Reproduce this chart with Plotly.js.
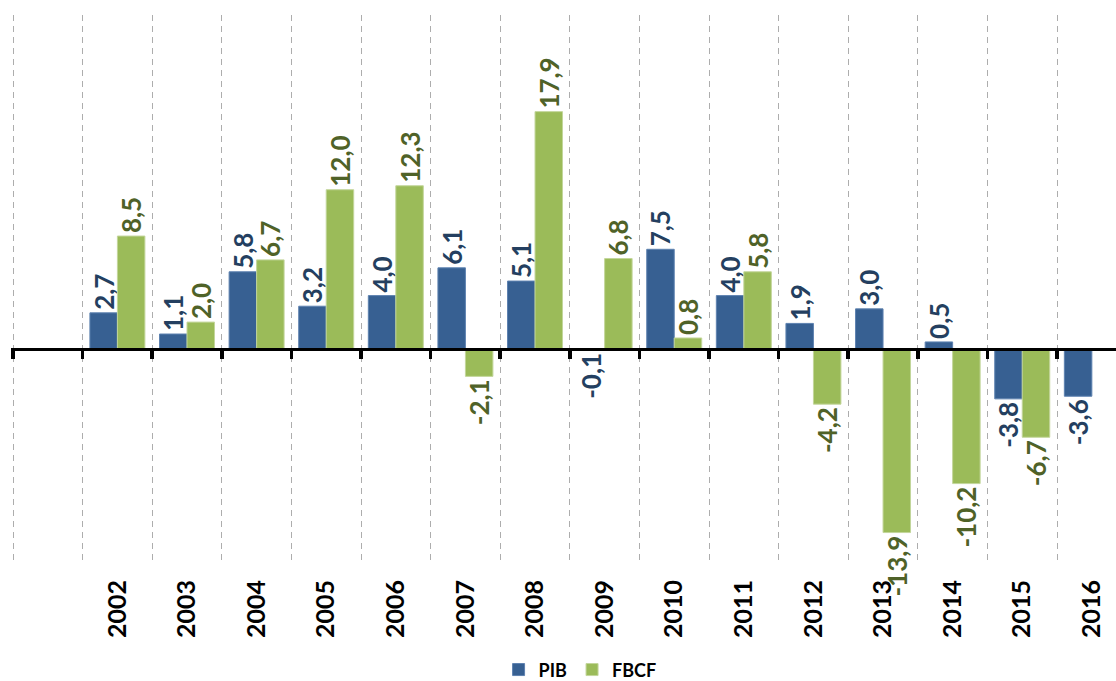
<!DOCTYPE html>
<html>
<head>
<meta charset="utf-8">
<script src="https://cdn.plot.ly/plotly-3.0.1.min.js"></script>
<style>
html,body{margin:0;padding:0;background:#fff;}
#chart{width:1116px;height:681px;}
</style>
</head>
<body>
<div id="chart"></div>
<script>
var years = ['2002','2003','2004','2005','2006','2007','2008','2009','2010','2011','2012','2013','2014','2015','2016'];
var allCategories = [' '].concat(years);
var pib  = [2.7, 1.1, 5.8, 3.2, 4.0, 6.1, 5.1, -0.1, 7.5, 4.0, 1.9, 3.0, 0.5, -3.8, -3.6];
var fbcf = [8.5, 2.0, 6.7, 12.0, 12.3, -2.1, 17.9, 6.8, 0.8, 5.8, -4.2, -13.9, -10.2, -6.7, null];
var seriesNames = ['PIB', 'FBCF'];

function fmt(v){ return v === null ? '' : v.toFixed(1).replace('.', ','); }

var FONT = 'Lato, "Open Sans", "DejaVu Sans", sans-serif';
var yMin = -16.2, yMax = 25.2;
var zeroPos = (0 - yMin) / (yMax - yMin);
var xRange = [-0.5287, 15.347];

var pibFont = {family: FONT, size: 26, color: '#243F60', weight: 'bold'};
var fbcfFont = {family: FONT, size: 26, color: '#4F6228', weight: 'bold'};

var traces = [
  {
    type: 'bar', name: seriesNames[0], x: years, y: pib,
    text: pib.map(fmt), textposition: 'outside', textangle: -90,
    constraintext: 'none', cliponaxis: false,
    textfont: pibFont, outsidetextfont: pibFont,
    marker: {color: '#376092', line: {color: '#5E82B0', width: 1}}
  },
  {
    type: 'bar', name: seriesNames[1], x: years, y: fbcf,
    text: fbcf.map(fmt), textposition: 'outside', textangle: -90,
    constraintext: 'none', cliponaxis: false,
    textfont: fbcfFont, outsidetextfont: fbcfFont,
    marker: {color: '#9BBB59', line: {color: '#C3D69B', width: 1}}
  },
  {
    type: 'scatter', mode: 'none', x: years, y: years.map(function(){return 0;}),
    xaxis: 'x2', yaxis: 'y', showlegend: false, hoverinfo: 'skip'
  }
];

var layout = {
  width: 1116, height: 681,
  margin: {l: 11, r: 0, t: 15, b: 118, autoexpand: false},
  paper_bgcolor: '#ffffff', plot_bgcolor: '#ffffff',
  barmode: 'group', bargap: 0.21, bargroupgap: 0,
  showlegend: true,
  legend: {
    orientation: 'h', x: 0.515, xanchor: 'center', y: -0.195, yanchor: 'middle',
    font: {family: FONT, size: 18, color: '#000000', weight: 'bold'},
    itemwidth: 30, traceorder: 'normal'
  },
  xaxis: {
    type: 'category', categoryorder: 'array', categoryarray: allCategories,
    range: xRange,
    tickson: 'boundaries', ticks: '', showline: false,
    showgrid: true, gridcolor: '#ADADAD', gridwidth: 1, griddash: '6px,5px',
    tickangle: -90, ticklabelstandoff: 11,
    tickfont: {family: FONT, size: 25, color: '#000000', weight: 'bold'},
    zeroline: false, fixedrange: true
  },
  xaxis2: {
    type: 'category', categoryorder: 'array', categoryarray: allCategories,
    range: xRange, overlaying: 'x', anchor: 'free', position: zeroPos,
    side: 'bottom', showline: true, linecolor: '#000000', linewidth: 3.5,
    ticks: 'outside', tickson: 'boundaries', ticklen: 8, tickwidth: 3.5, tickcolor: '#000000',
    showticklabels: false, showgrid: false, zeroline: false
  },
  yaxis: {
    range: [yMin, yMax], showgrid: false, zeroline: false, showline: false,
    showticklabels: false, ticks: '', fixedrange: true
  }
};

Plotly.newPlot('chart', traces, layout, {displayModeBar: false, staticPlot: true});
</script>
</body>
</html>
